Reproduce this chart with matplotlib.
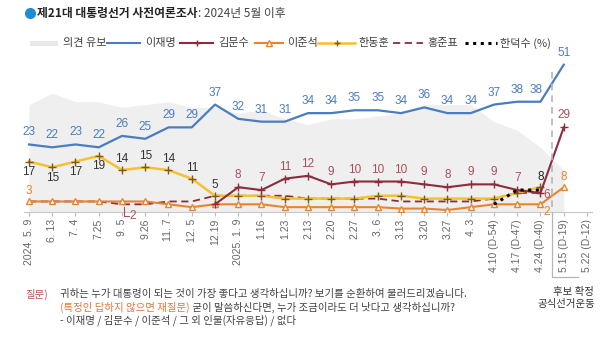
import numpy as np
import matplotlib
matplotlib.use("Agg")
import matplotlib.pyplot as plt
from matplotlib.lines import Line2D
from matplotlib.patches import Rectangle
from matplotlib.transforms import IdentityTransform, blended_transform_factory

plt.rcParams['font.family'] = ['Noto Sans CJK KR', 'DejaVu Sans']

# Survey dates (x axis)
dates = ["2024. 5. 9", "6. 13", "7. 4", "7.25", "9. 5", "9.26", "11. 7", "12. 5",
         "12.19", "2025. 1. 9", "1.16", "1.23", "2.13", "2.20", "2.27", "3. 6",
         "3.13", "3.20", "3.27", "4. 3", "4.10 (D-54)", "4.17 (D-47)",
         "4.24 (D-40)", "5.15 (D-19)", "5.22 (D-12)"]

# Preference (%) per date; None = not asked
undecided = [37, 41, 38, 38, 36, 37, 38, 36, 36, 34, 35, 32, 30, 32, 32, 33,
             34, 37, 37, 37, 31, 28, 22, 14, None]
lee_jm = [23, 22, 23, 22, 26, 25, 29, 29, 37, 32, 31, 31, 34, 34, 35, 35,
          34, 36, 34, 34, 37, 38, 38, 51, None]
kim_ms = [None, None, None, None, None, None, None, None, 2, 8, 7, 11, 12, 9,
          10, 10, 10, 9, 8, 9, 9, 7, 6, 29, None]
lee_js = [3, 3, 3, 3, 3, 3, 2, 1, 2, 2, 2, 1, 1, 1, 1, 1, 0.5, 0.5, 0, 1,
          2, 2, 2, 8, None]
han_dh = [17, 15, 17, 19, 14, 15, 14, 11, 5, 5, 5, 4, 4, 4, 4, 5, 5, 4, 4, 4,
          4, 6, 8, None, None]
hong_jp = [3, 3, 3, 3, 2, 2, 3, 3, 5, 5, 5, 5, 4, 4, 4, 4, 3, 3, 3, 3,
           4, 6, 6, None, None]
han_ds = [None] * 20 + [2, 7, 7, None, None]

C_LEE = '#4a7cc0'
C_KIM = '#8c2d3c'
C_KIM_TXT = '#a8505c'
C_LJS = '#e8842e'
C_HDH = '#f5c12c'
C_HDH_MK = '#7c5a1e'
C_GREY = '#efefef'

W, H = 600, 342
fig = plt.figure(figsize=(W / 100, H / 100), dpi=100, facecolor='white')


def fx(px):
    return px / W


def fy(py):
    return 1 - py / H


ax = fig.add_axes([fx(24.35), fy(212), (591.65 - 24.35) / W, (212 - 55) / H])
x = np.arange(len(dates))
ax.set_xlim(-0.2, 24.2)
ax.set_ylim(-0.7, 54.4)
ymin = ax.get_ylim()[0]

arr = lambda v: np.array(v, dtype=float)
und = arr(undecided)
m = ~np.isnan(und)
ax.fill_between(x[m], ymin, und[m], color=C_GREY, lw=0, zorder=0)

ax.plot(x, arr(hong_jp), color=C_KIM, lw=1.3, ls=(0, (4, 2.5)), zorder=3)
ax.plot(x, arr(han_dh), color=C_HDH, lw=1.8, marker='+', ms=6, mec=C_HDH_MK,
        mew=1, zorder=3)
ax.plot(x, arr(lee_js), color=C_LJS, lw=1.5, marker='^', ms=4.5, mfc='white',
        mec=C_LJS, mew=1, zorder=4)
ax.plot(x, arr(kim_ms), color=C_KIM, lw=1.5, marker='+', ms=6, mew=1, zorder=4)
ax.plot(x, arr(lee_jm), color=C_LEE, lw=1.6, zorder=5)
ax.plot(x, arr(han_ds), color='black', lw=2.2, ls=(0, (1, 1.5)), zorder=6)

for s in ['top', 'right', 'left']:
    ax.spines[s].set_visible(False)
ax.spines['bottom'].set_color('#c8c8c8')
ax.set_yticks([])
ax.set_xticks(x)
ax.set_xticklabels(dates, rotation=90, fontsize=7.5, color='#666666',
                   va='top', ha='center', family=['Liberation Sans', 'DejaVu Sans'])
ax.tick_params(axis='x', length=3, color='#bbbbbb', pad=2)
ax.set_facecolor('none')


def lab(i, v, txt, color, dy=12, dx=0, size=8.5):
    ax.annotate(txt, (i, v), xytext=(dx * 0.72, dy * 0.72),
                textcoords='offset points', ha='center', va='center',
                fontsize=size, color=color, zorder=8,
                family=['Liberation Sans', 'DejaVu Sans'])


for i, v in enumerate(lee_jm):
    if v is not None:
        lab(i, v, str(v), C_LEE, dx=(-4 if i == 22 else 0))

for i, v in enumerate(kim_ms):
    if v is None or i < 9:
        continue
    if i == 22:
        lab(i, v, str(v), C_KIM_TXT, dy=-2, dx=6)
    else:
        lab(i, v, str(v), C_KIM_TXT)

for i in range(9):
    lab(i, han_dh[i], str(han_dh[i]), '#333333', dy=(-10.5 if i < 4 else 11))
lab(22, han_dh[22], str(han_dh[22]), '#222222', dy=10)

lab(0, lee_js[0], str(lee_js[0]), C_LJS, dy=10)
lab(22, lee_js[22], str(lee_js[22]), C_LJS, dy=-8, dx=6)
lab(23, lee_js[23], str(lee_js[23]), C_LJS, dy=10)

# Leader for a low value sitting under the other lines
fig.canvas.draw()
px, py = ax.transData.transform((4, hong_jp[4]))
fig.add_artist(Line2D([px + 2, px + 2, px + 7], [py - 3, py - 12, py - 12],
                      transform=IdentityTransform(), color=C_KIM_TXT, lw=0.8))
fig.text((px + 11) / W, (py - 12) / H, str(hong_jp[4]), color=C_KIM_TXT,
         fontsize=8.5, ha='center', va='center',
         family=['Liberation Sans', 'DejaVu Sans'])

# Nomination / official campaign divider
bt = blended_transform_factory(ax.transData, fig.transFigure)
ax.plot([22.5, 22.5], [fy(72), fy(212)], transform=bt, color='#b5b5b5',
        lw=1.2, ls=(0, (4, 3)), clip_on=False, zorder=7)
xd = ax.transData.transform((22.5, 0))[0] / W
fig.add_artist(Line2D([xd, xd, fx(578)], [fy(212), fy(277), fy(277)],
                      transform=fig.transFigure, color='#b5b5b5', lw=0.9))
fig.text(fx(573), fy(292), '후보 확정', fontsize=7.5, color='#333333',
         ha='center', va='center')
fig.text(fx(566), fy(304), '공식선거운동', fontsize=7.5, color='#333333',
         ha='center', va='center')

# Title
fig.add_artist(Line2D([fx(30)], [fy(13)], marker='o', ms=7, color='#1f8dd6',
                      transform=fig.transFigure))
t1 = fig.text(fx(37), fy(13), '제21대 대통령선거 사전여론조사', fontsize=8.5,
              fontweight='bold', color='#222222', va='center', ha='left')
fig.text(0, 0, '')
ax.annotate(': 2024년 5월 이후', xy=(1, 0.5), xycoords=t1, va='center',
            ha='left', fontsize=8.5, color='#444444', annotation_clip=False)

# Legend
LY = fy(43)
fig.add_artist(Rectangle((fx(30), fy(46)), 28 / W, 5 / H,
                         transform=fig.transFigure, color='#e9e9e9', lw=0))


def leg_line(x0, x1, **kw):
    fig.add_artist(Line2D([fx(x0), fx((x0 + x1) / 2), fx(x1)], [LY] * 3,
                          transform=fig.transFigure, markevery=[1], **kw))


def leg_text(x0, s):
    fig.text(fx(x0), LY, s, fontsize=8, color='#404040', va='center', ha='left')


leg_text(63, '의견 유보')
leg_line(107, 140, color=C_LEE, lw=1.5)
leg_text(145, '이재명')
leg_line(180, 213, color=C_KIM, lw=1.5, marker='+', ms=5, mew=1)
leg_text(218, '김문수')
leg_line(255, 283, color=C_LJS, lw=1.5, marker='^', ms=4, mfc='white', mec=C_LJS)
leg_text(287, '이준석')
leg_line(318, 355, color=C_HDH, lw=1.8, marker='+', ms=5, mec=C_HDH_MK, mew=1)
leg_text(358, '한동훈')
leg_line(393, 423, color=C_KIM, lw=1.3, ls=(0, (4, 2.5)))
leg_text(427, '홍준표')
leg_line(465, 497, color='black', lw=2.2, ls=(0, (1, 1.5)))
leg_text(500, '한덕수 (%)')

# Question wording
QS = 7.5
fig.text(fx(25), fy(294), '질문)', color='#c0504d', fontsize=QS, va='center')
fig.text(fx(60), fy(294),
         '귀하는 누가 대통령이 되는 것이 가장 좋다고 생각하십니까? 보기를 순환하여 불러드리겠습니다.',
         color='#404040', fontsize=QS, va='center')
t2 = fig.text(fx(60), fy(307), '(특정인 답하지 않으면 재질문)', color='#e0783c',
              fontsize=QS, va='center')
ax.annotate(' 굳이 말씀하신다면, 누가 조금이라도 더 낫다고 생각하십니까?',
            xy=(1, 0.5), xycoords=t2, va='center', ha='left', fontsize=QS,
            color='#404040', annotation_clip=False)
fig.text(fx(60), fy(320), '- 이재명 / 김문수 / 이준석 / 그 외 인물(자유응답) / 없다',
         color='#404040', fontsize=QS, va='center')

fig.savefig('out.png', dpi=100, facecolor='white')
